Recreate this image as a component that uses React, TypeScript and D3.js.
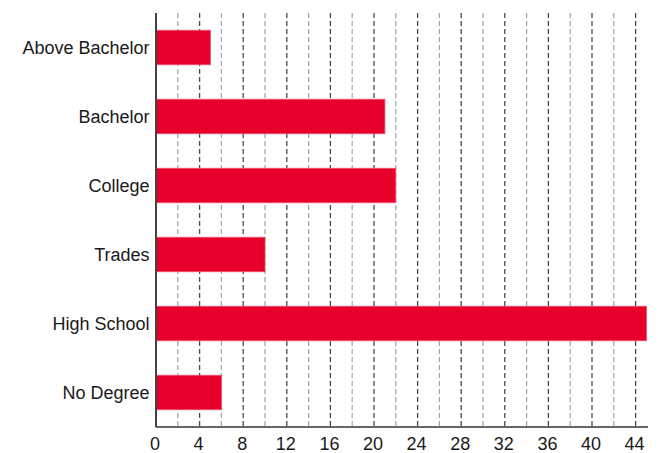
import React from "react";
import * as d3 from "d3";

const categories = ["Above Bachelor", "Bachelor", "College", "Trades", "High School", "No Degree"];
const values = [5, 21, 22, 10, 45, 6];
const xTicks = [0, 4, 8, 12, 16, 20, 24, 28, 32, 36, 40, 44];
const gridValues = [2, 4, 6, 8, 10, 12, 14, 16, 18, 20, 22, 24, 26, 28, 30, 32, 34, 36, 38, 40, 42, 44];

const W = 662;
const H = 453;
const left = 156;
const right = 648;
const top = 13;
const bottom = 427;

export default function App() {
  const x = d3.scaleLinear().domain([0, 45]).range([left, left + 45 * 10.9]);
  const y = d3.scaleBand<string>().domain(categories).range([top, bottom]).paddingInner(0.5).paddingOuter(0.25);
  const font = "'Liberation Sans', Arial, sans-serif";
  return (
    <svg width={W} height={H} style={{ position: "absolute", left: 0, top: 0, background: "#fff" }}>
      <rect x={0} y={0} width={W} height={H} fill="#fff" />
      {gridValues.map((g) => (
        <line
          key={g}
          x1={x(g)}
          x2={x(g)}
          y1={top}
          y2={bottom}
          stroke={g % 4 === 0 ? "#4a4a4a" : "#a8a8a8"}
          strokeWidth={1.3}
          strokeDasharray="5,3"
        />
      ))}
      {categories.map((c, i) => (
        <rect
          key={c}
          x={x(0)}
          y={y(c)}
          width={x(values[i]) - x(0)}
          height={y.bandwidth()}
          fill="#e6002a"
          stroke="#f0506a"
          strokeWidth={0.8}
        />
      ))}
      <line x1={left} x2={right} y1={bottom} y2={bottom} stroke="#333" strokeWidth={1.5} />
      <line x1={left} x2={left} y1={top} y2={bottom} stroke="#444" strokeWidth={2} />
      {categories.map((c) => (
        <text
          key={c}
          x={149.5}
          y={(y(c) as number) + y.bandwidth() / 2 + 6.5}
          textAnchor="end"
          fontFamily={font}
          fontSize={18}
          fill="#1a1a1a"
        >
          {c}
        </text>
      ))}
      {xTicks.map((t) => (
        <text
          key={t}
          x={x(t) - 1}
          y={450}
          textAnchor="middle"
          fontFamily={font}
          fontSize={18}
          fill="#1a1a1a"
        >
          {t}
        </text>
      ))}
    </svg>
  );
}
